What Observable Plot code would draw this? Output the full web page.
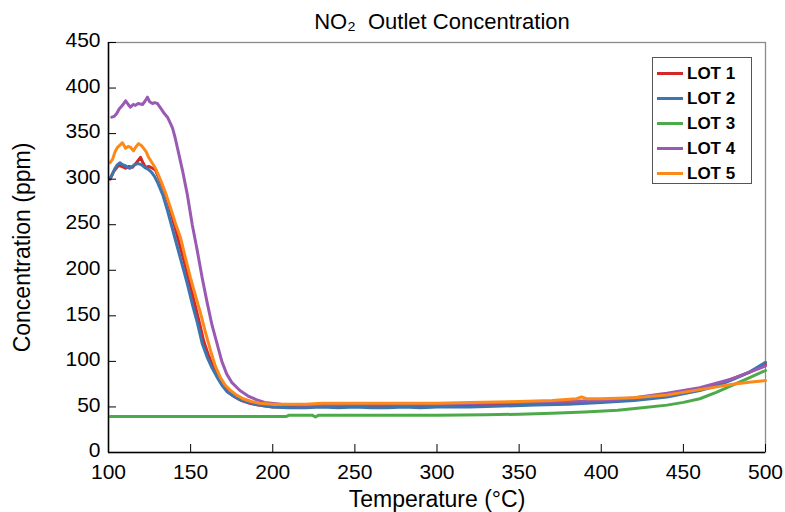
<!DOCTYPE html>
<html>
<head>
<meta charset="utf-8">
<script src="https://cdn.jsdelivr.net/npm/d3@7"></script>
<script src="https://cdn.jsdelivr.net/npm/@observablehq/plot@0.6"></script>
<style>
  html, body { margin: 0; padding: 0; background: #fff; }
  #wrap { position: relative; width: 785px; height: 512px; font-family: "Liberation Sans", Arial, sans-serif; }
  #legend { position: absolute; left: 652px; top: 57px; width: 100px; height: 127px; border: 1px solid #555; background: #fff; box-sizing: border-box; padding-top: 3px; }
  .row { display: flex; align-items: center; height: 25px; }
  .sw { width: 26px; height: 3px; margin-left: 4px; margin-right: 4px; }
  .lb { font-size: 17px; font-weight: bold; color: #000; }
</style>
</head>
<body>
<div id="wrap"></div>
<script>
const lots = ["LOT 1", "LOT 2", "LOT 3", "LOT 4", "LOT 5"];
const colors = ["#d62728", "#3b76b0", "#4daa4a", "#9a5ab4", "#fb8a1b"];
const xTicks = [100, 150, 200, 250, 300, 350, 400, 450, 500];
const yTicks = [0, 50, 100, 150, 200, 250, 300, 350, 400, 450];

const lot1T = [101, 103, 106, 108, 110.4, 112.5, 114.6, 117, 119.5, 121, 122.5, 124.5, 126.8, 128.6, 131, 134, 137, 140, 143, 146, 149, 152, 155, 158, 161, 164, 167, 170, 173, 177, 181, 186, 191, 196, 200, 210, 230, 250, 270, 300, 320, 350, 380, 400, 420, 440, 460, 470, 480, 490, 500];
const lot1V = [300, 308, 315, 314, 312, 314, 313, 318, 324, 318, 313, 314, 312, 310, 300, 287, 270, 250, 230, 210, 189, 167, 145, 122, 106, 93, 82, 73, 66, 61, 57, 54, 52, 51, 50, 50, 51, 51, 51, 51, 52, 53, 54, 56, 58, 62, 69, 74, 81, 88, 97];

const lot2T = [101, 102.5, 104, 105.5, 107, 108.5, 110, 111.5, 113, 114.5, 116, 118, 120, 122, 124, 126, 128, 130, 133, 136, 139, 142, 145, 148, 151, 154, 157, 160, 163, 166, 169, 172, 176, 180, 185, 190, 195, 200, 210, 220, 230, 240, 250, 260, 270, 280, 290, 300, 320, 340, 360, 380, 400, 420, 440, 460, 470, 480, 490, 500];
const lot2V = [301, 306, 312, 316, 318, 316, 315, 313, 312, 314, 316, 317, 316, 313, 311, 308, 303, 296, 283, 265, 245, 225, 205, 185, 163, 143, 120, 105, 93, 83, 74, 67, 62, 58, 55, 53, 51, 50, 49, 49, 50, 49, 50, 49, 49, 50, 49, 50, 50, 51, 52, 53, 55, 57, 61, 68, 73, 80, 88, 99];

const lot3T = [101, 150, 208, 210, 224, 226, 228, 260, 300, 330, 350, 370, 390, 410, 425, 440, 450, 460, 470, 480, 490, 500];
const lot3V = [39.5, 39.5, 39.5, 41, 41, 39, 41, 41, 41, 41.5, 42, 43, 44.5, 46.5, 49, 52, 55, 59, 66, 74, 82, 90];

const lot4T = [102, 103.5, 105, 106.5, 108.5, 110.4, 112, 113.4, 115, 116.4, 118, 120.7, 122, 123.7, 125, 126.8, 128, 129.8, 131, 132.9, 134, 135.9, 137.5, 139, 140.5, 142, 145, 148, 151, 154, 157, 160, 163, 166, 169, 172, 175, 180, 185, 190, 195, 205, 220, 250, 300, 350, 400, 420, 440, 460, 480, 490, 500];
const lot4V = [368, 369, 372, 377, 381, 386, 382, 379, 382, 381, 383, 382, 385, 390, 385, 383, 384, 383, 380, 375, 372, 368, 362, 356, 346, 334, 310, 283, 250, 222, 192, 165, 140, 120, 100, 86, 77, 68, 62, 58, 55, 53, 52, 53, 53, 55, 57, 60, 65, 71, 81, 88, 95];

const lot5T = [101, 102.5, 104, 105.5, 107.3, 108.5, 110.4, 112, 113.4, 115.2, 116.5, 118.3, 120, 121.3, 123, 124.4, 126.5, 128.6, 131.7, 134.7, 137.7, 140.7, 143.8, 146.8, 149.9, 153, 156, 159, 162.1, 165, 168.2, 171, 174.3, 178, 182, 187, 192, 200, 210, 220, 230, 250, 270, 300, 320, 350, 370, 385, 388, 391, 400, 420, 440, 460, 480, 490, 500];
const lot5V = [318, 322, 330, 335, 338, 340, 334, 336, 335, 331, 335, 339, 337, 334, 330, 324, 318, 312, 299, 285, 269, 252, 236, 214, 192, 172, 153, 132, 112, 95, 82, 74, 68, 63, 59, 56, 54, 53, 53, 53, 54, 54, 54, 54, 55, 56, 57, 59, 61, 59, 59, 60, 63, 69, 75, 77, 79];

const seriesT = [lot1T, lot2T, lot3T, lot4T, lot5T];
const seriesV = [lot1V, lot2V, lot3V, lot4V, lot5V];
const rows = [];
lots.forEach((lot, i) => seriesT[i].forEach((t, j) => rows.push({lot, t, v: seriesV[i][j]})));

const font = "Liberation Sans, Arial, sans-serif";
const chart = Plot.plot({
  width: 785,
  height: 512,
  marginLeft: 108,
  marginRight: 20,
  marginTop: 42,
  marginBottom: 60,
  style: {fontFamily: font, fontSize: "21px", background: "#fff", color: "#000"},
  x: {domain: [100, 500]},
  y: {domain: [0, 450]},
  color: {domain: lots, range: colors},
  marks: [
    Plot.frame({stroke: "#8a8a8a", strokeWidth: 1.3}),
    Plot.line(rows, {x: "t", y: "v", z: "lot", stroke: "lot", strokeWidth: 3, curve: "linear"}),
    Plot.ruleX([100], {stroke: "#000", strokeWidth: 1.5}),
    Plot.ruleY([0], {stroke: "#000", strokeWidth: 1.5}),
    Plot.axisX({ticks: xTicks, tickFormat: d => String(d), tickSize: -8, tickPadding: 20, label: null, fontSize: 21}),
    Plot.axisY({ticks: yTicks, tickSize: -8, text: null, label: null}),
    Plot.axisY({ticks: yTicks, tickFormat: d => String(d), tickSize: 0, tickPadding: 8, dy: -2, label: null, fontSize: 21}),
    Plot.text(["NO\u2082  Outlet Concentration"], {frameAnchor: "top", lineAnchor: "middle", dy: -21, dx: 5, fontSize: 22}),
    Plot.text(["Concentration (ppm)"], {frameAnchor: "left", textAnchor: "middle", rotate: -90, dx: -86, fontSize: 23}),
    Plot.text(["Temperature (\u00b0C)"], {frameAnchor: "bottom", lineAnchor: "middle", dy: 47, fontSize: 23})
  ]
});
const wrap = document.getElementById("wrap");
wrap.appendChild(chart);

const legend = document.createElement("div");
legend.id = "legend";
lots.forEach((lot, i) => {
  const row = document.createElement("div");
  row.className = "row";
  const sw = document.createElement("span");
  sw.className = "sw";
  sw.style.background = colors[i];
  const lb = document.createElement("span");
  lb.className = "lb";
  lb.textContent = lot;
  row.appendChild(sw);
  row.appendChild(lb);
  legend.appendChild(row);
});
wrap.appendChild(legend);
</script>
</body>
</html>
